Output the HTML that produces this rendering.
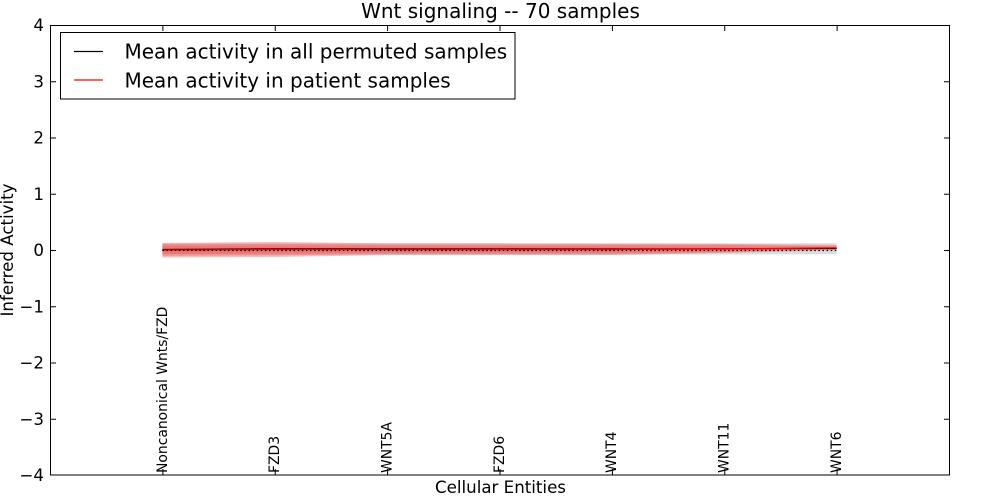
<!DOCTYPE html>
<html>
<head>
<meta charset="utf-8">
<style>
  html, body { margin:0; padding:0; background:#fff; }
  svg { display:block; }
  text { font-family: "DejaVu Sans", "Liberation Sans", sans-serif; fill:#000; }
</style>
</head>
<body>
<svg width="1000" height="500" viewBox="0 0 1000 500" xmlns="http://www.w3.org/2000/svg">
  <rect x="0" y="0" width="1000" height="500" fill="#fff"/>

  <!-- grey permuted band -->
  <polygon fill="#dcdcdc" points="162.4,243.5 274.75,243.5 387.1,243.5 499.5,243.5 611.9,243.5 724.25,243.5 836.6,243.3 836.6,254.2 724.25,254.5 611.9,254.5 499.5,254.5 387.1,254.5 274.75,254.5 162.4,254.5"/>

  <!-- red bands -->
  <polygon fill="rgba(240,60,60,0.35)" points="162.4,243 274.75,242 387.1,243.3 499.5,243.3 611.9,243.5 724.25,243.8 836.6,245 836.6,250 724.25,253 611.9,255 499.5,255 387.1,255 274.75,257 162.4,257.5"/>
  <polygon fill="rgba(240,60,60,0.25)" points="162.4,244.5 274.75,244 387.1,245 499.5,245 611.9,245 724.25,245 836.6,246.5 836.6,249 724.25,252 611.9,254 499.5,254 387.1,254 274.75,255.5 162.4,256"/>
  <polygon fill="rgba(240,60,60,0.2)" points="162.4,246 274.75,246 387.1,246.5 499.5,246.5 611.9,246.5 724.25,246.5 836.6,247 836.6,248.5 724.25,251 611.9,252.5 499.5,252.5 387.1,252.5 274.75,253.5 162.4,254"/>

  <!-- black permuted mean -->
  <polyline fill="none" stroke="#000" stroke-width="1.2" points="162.4,249.5 274.75,248.8 387.1,249 499.5,249 611.9,249 724.25,248.8 836.6,248.5"/>
  <!-- red patient mean -->
  <polyline fill="none" stroke="#ff0000" stroke-width="1.2" points="162.4,250 274.75,249.5 387.1,249.7 499.5,249.6 611.9,249.5 724.25,249 836.6,247.8"/>
  <!-- dotted zero line -->
  <line x1="162.4" y1="250.5" x2="836.6" y2="250.5" stroke="#000" stroke-width="1.3" stroke-dasharray="1.5,2.6"/>

  <!-- axes frame -->
  <rect x="50.5" y="25.5" width="899" height="449.5" fill="none" stroke="#000" stroke-width="1"/>

  <!-- y ticks -->
  <g stroke="#000" stroke-width="1">
    <line x1="50" y1="25.5" x2="56" y2="25.5"/><line x1="944" y1="25.5" x2="950" y2="25.5"/>
    <line x1="50" y1="81.75" x2="56" y2="81.75"/><line x1="944" y1="81.75" x2="950" y2="81.75"/>
    <line x1="50" y1="138" x2="56" y2="138"/><line x1="944" y1="138" x2="950" y2="138"/>
    <line x1="50" y1="194.25" x2="56" y2="194.25"/><line x1="944" y1="194.25" x2="950" y2="194.25"/>
    <line x1="50" y1="250.5" x2="56" y2="250.5"/><line x1="944" y1="250.5" x2="950" y2="250.5"/>
    <line x1="50" y1="306.75" x2="56" y2="306.75"/><line x1="944" y1="306.75" x2="950" y2="306.75"/>
    <line x1="50" y1="363" x2="56" y2="363"/><line x1="944" y1="363" x2="950" y2="363"/>
    <line x1="50" y1="419.25" x2="56" y2="419.25"/><line x1="944" y1="419.25" x2="950" y2="419.25"/>
    <line x1="50" y1="475" x2="56" y2="475"/><line x1="944" y1="475" x2="950" y2="475"/>
  </g>
  <!-- x ticks -->
  <g stroke="#000" stroke-width="1">
    <line x1="162.9" y1="475" x2="162.9" y2="469"/><line x1="162.9" y1="25" x2="162.9" y2="31"/>
    <line x1="275.25" y1="475" x2="275.25" y2="469"/><line x1="275.25" y1="25" x2="275.25" y2="31"/>
    <line x1="387.6" y1="475" x2="387.6" y2="469"/><line x1="387.6" y1="25" x2="387.6" y2="31"/>
    <line x1="500" y1="475" x2="500" y2="469"/><line x1="500" y1="25" x2="500" y2="31"/>
    <line x1="612.4" y1="475" x2="612.4" y2="469"/><line x1="612.4" y1="25" x2="612.4" y2="31"/>
    <line x1="724.75" y1="475" x2="724.75" y2="469"/><line x1="724.75" y1="25" x2="724.75" y2="31"/>
    <line x1="837.1" y1="475" x2="837.1" y2="469"/><line x1="837.1" y1="25" x2="837.1" y2="31"/>
  </g>

  <!-- y tick labels -->
  <g font-size="16.67" text-anchor="end">
    <text x="44" y="31">4</text>
    <text x="44" y="87.5">3</text>
    <text x="44" y="143.5">2</text>
    <text x="44" y="200">1</text>
    <text x="44" y="256">0</text>
    <text x="44" y="312.5">−1</text>
    <text x="44" y="368.5">−2</text>
    <text x="44" y="425">−3</text>
    <text x="44" y="481">−4</text>
  </g>

  <!-- x tick labels (rotated) -->
  <g font-size="13.9">
    <text transform="translate(167,473) rotate(-90)">Noncanonical Wnts/FZD</text>
    <text transform="translate(279,473) rotate(-90)">FZD3</text>
    <text transform="translate(391.5,473) rotate(-90)">WNT5A</text>
    <text transform="translate(504,473) rotate(-90)">FZD6</text>
    <text transform="translate(616,473) rotate(-90)">WNT4</text>
    <text transform="translate(728.5,473) rotate(-90)">WNT11</text>
    <text transform="translate(841,473) rotate(-90)">WNT6</text>
  </g>

  <!-- axis labels & title -->
  <text x="500.5" y="493" font-size="16.67" text-anchor="middle">Cellular Entities</text>
  <text transform="translate(13,250) rotate(-90)" font-size="16.67" text-anchor="middle">Inferred Activity</text>
  <text x="500.5" y="18" font-size="20" text-anchor="middle">Wnt signaling -- 70 samples</text>

  <!-- legend -->
  <rect x="60.5" y="32.5" width="454.5" height="66.5" fill="#fff" stroke="#000" stroke-width="1"/>
  <line x1="74" y1="51.5" x2="103" y2="51.5" stroke="#000" stroke-width="1.2"/>
  <line x1="74" y1="80" x2="103" y2="80" stroke="#ff0000" stroke-width="1.2"/>
  <text x="124.5" y="58.5" font-size="20">Mean activity in all permuted samples</text>
  <text x="124.5" y="87.5" font-size="20">Mean activity in patient samples</text>
</svg>
</body>
</html>
